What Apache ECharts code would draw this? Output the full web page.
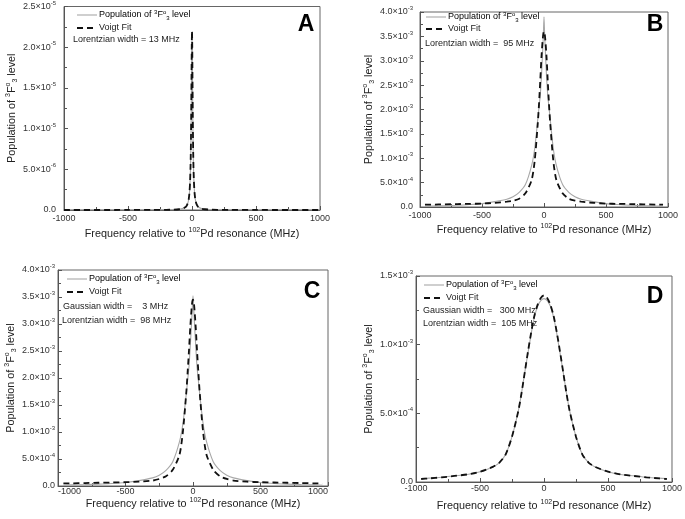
<!DOCTYPE html>
<html><head><meta charset="utf-8">
<script src="https://cdn.jsdelivr.net/npm/echarts@6/dist/echarts.min.js"></script>
<style>html,body{margin:0;padding:0;background:#fff}#c{width:685px;height:519px}</style>
</head><body><div id="c"></div>
<script>
// ---------------- DATA ----------------
const xTicks = [-1000, -500, 0, 500, 1000];
const xA = [-1000,-500,-300,-200,-150,-100,-75,-50,-40,-30,-25,-20,-15,-12,-10,-8,-6,-4,-2,0,2,4,6,8,10,12,15,20,25,30,40,50,75,100,150,200,300,500,1000];
const popA = [0.001e-6,0.004e-6,0.01e-6,0.024e-6,0.042e-6,0.095e-6,0.167e-6,0.37e-6,0.58e-6,1.0e-6,1.4e-6,2.1e-6,3.5e-6,5.0e-6,6.5e-6,8.7e-6,11.8e-6,15.9e-6,19.9e-6,21.8e-6,19.9e-6,15.9e-6,11.8e-6,8.7e-6,6.5e-6,5.0e-6,3.5e-6,2.1e-6,1.4e-6,1.0e-6,0.58e-6,0.37e-6,0.167e-6,0.095e-6,0.042e-6,0.024e-6,0.01e-6,0.004e-6,0.001e-6];
const fitA = [0.001e-6,0.004e-6,0.01e-6,0.023e-6,0.041e-6,0.093e-6,0.164e-6,0.365e-6,0.57e-6,0.99e-6,1.39e-6,2.1e-6,3.48e-6,4.99e-6,6.53e-6,8.75e-6,11.9e-6,16.0e-6,20.1e-6,22.0e-6,20.1e-6,16.0e-6,11.9e-6,8.75e-6,6.53e-6,4.99e-6,3.48e-6,2.1e-6,1.39e-6,0.99e-6,0.57e-6,0.365e-6,0.164e-6,0.093e-6,0.041e-6,0.023e-6,0.01e-6,0.004e-6,0.001e-6];

const xB = [-960,-900,-800,-700,-600,-500,-400,-300,-250,-200,-150,-100,-75,-50,-40,-30,-20,-10,-5,0,5,10,20,30,40,50,75,100,150,200,250,300,400,500,600,700,800,900,960];
const popB = [0.015e-3,0.02e-3,0.025e-3,0.035e-3,0.05e-3,0.07e-3,0.11e-3,0.16e-3,0.21e-3,0.3e-3,0.46e-3,0.85e-3,1.2e-3,1.8e-3,2.05e-3,2.3e-3,2.7e-3,3.25e-3,3.55e-3,3.9e-3,3.55e-3,3.25e-3,2.7e-3,2.3e-3,2.05e-3,1.8e-3,1.2e-3,0.85e-3,0.46e-3,0.3e-3,0.21e-3,0.16e-3,0.11e-3,0.07e-3,0.05e-3,0.035e-3,0.025e-3,0.02e-3,0.015e-3];
const fitB = [0.05e-3,0.05e-3,0.055e-3,0.06e-3,0.065e-3,0.07e-3,0.085e-3,0.11e-3,0.13e-3,0.17e-3,0.28e-3,0.55e-3,0.95e-3,1.72e-3,2.12e-3,2.6e-3,3.1e-3,3.45e-3,3.56e-3,3.6e-3,3.56e-3,3.45e-3,3.1e-3,2.6e-3,2.12e-3,1.72e-3,0.95e-3,0.55e-3,0.28e-3,0.17e-3,0.13e-3,0.11e-3,0.085e-3,0.07e-3,0.065e-3,0.06e-3,0.055e-3,0.05e-3,0.05e-3];

const xC = [-960,-900,-800,-700,-600,-500,-400,-300,-250,-200,-150,-100,-75,-50,-40,-30,-20,-10,-5,0,5,10,20,30,40,50,75,100,150,200,250,300,400,500,600,700,800,900,960];
const popC = [0.015e-3,0.02e-3,0.025e-3,0.035e-3,0.045e-3,0.065e-3,0.1e-3,0.15e-3,0.2e-3,0.29e-3,0.45e-3,0.82e-3,1.15e-3,1.7e-3,1.95e-3,2.2e-3,2.6e-3,3.05e-3,3.3e-3,3.52e-3,3.3e-3,3.05e-3,2.6e-3,2.2e-3,1.95e-3,1.7e-3,1.15e-3,0.82e-3,0.45e-3,0.29e-3,0.2e-3,0.15e-3,0.1e-3,0.065e-3,0.045e-3,0.035e-3,0.025e-3,0.02e-3,0.015e-3];
const fitC = [0.05e-3,0.05e-3,0.055e-3,0.06e-3,0.065e-3,0.07e-3,0.08e-3,0.1e-3,0.13e-3,0.18e-3,0.3e-3,0.58e-3,1.0e-3,1.72e-3,2.1e-3,2.5e-3,2.95e-3,3.3e-3,3.42e-3,3.45e-3,3.42e-3,3.3e-3,2.95e-3,2.5e-3,2.1e-3,1.72e-3,1.0e-3,0.58e-3,0.3e-3,0.18e-3,0.13e-3,0.1e-3,0.08e-3,0.07e-3,0.065e-3,0.06e-3,0.055e-3,0.05e-3,0.05e-3];

const xD = [-960,-900,-800,-700,-600,-500,-400,-350,-300,-250,-200,-175,-150,-125,-100,-75,-50,-25,0,25,50,75,100,125,150,175,200,250,300,350,400,500,600,700,800,900,960];
const popD = [0.025e-3,0.028e-3,0.035e-3,0.045e-3,0.055e-3,0.075e-3,0.11e-3,0.14e-3,0.2e-3,0.33e-3,0.52e-3,0.65e-3,0.8e-3,0.94e-3,1.08e-3,1.2e-3,1.28e-3,1.32e-3,1.335e-3,1.32e-3,1.28e-3,1.2e-3,1.08e-3,0.94e-3,0.8e-3,0.65e-3,0.52e-3,0.33e-3,0.2e-3,0.14e-3,0.11e-3,0.075e-3,0.055e-3,0.045e-3,0.035e-3,0.028e-3,0.025e-3];
const fitD = [0.022e-3,0.026e-3,0.034e-3,0.044e-3,0.055e-3,0.075e-3,0.11e-3,0.14e-3,0.2e-3,0.33e-3,0.52e-3,0.65e-3,0.8e-3,0.95e-3,1.09e-3,1.21e-3,1.29e-3,1.34e-3,1.36e-3,1.34e-3,1.29e-3,1.21e-3,1.09e-3,0.95e-3,0.8e-3,0.65e-3,0.52e-3,0.33e-3,0.2e-3,0.14e-3,0.11e-3,0.075e-3,0.055e-3,0.044e-3,0.034e-3,0.026e-3,0.022e-3];

const yMaxA = 2.5e-5, yIntA = 5e-6;
const yMaxB = 4.0e-3, yIntB = 5e-4;
const yMaxC = 4.0e-3, yIntC = 5e-4;
const yMaxD = 1.5e-3, yIntD = 5e-4;
const panelLetters = ['A', 'B', 'C', 'D'];
const legendPop = '{t|Population of }{sup|3}{t|F}{sup|o}{sub|3}{t| level}';
const legendFit = 'Voigt Fit';
const notes = [
  ['Lorentzian width = 13 MHz'],
  ['Lorentzian width =  95 MHz'],
  ['Gaussian width =    3 MHz', 'Lorentzian width =  98 MHz'],
  ['Gaussian width =   300 MHz', 'Lorentzian width =  105 MHz']
];
// ---------------- LAYOUT ----------------
const FONT = 'Liberation Sans, Arial, sans-serif';
const grids = [
  {left: 64, top: 5, width: 256, height: 205},
  {left: 420, top: 12, width: 248, height: 195},
  {left: 58, top: 270, width: 270, height: 216},
  {left: 416, top: 276, width: 257, height: 206}
];
const xLabelMargin = [4, 4, 1, 2];
const yLabelMargin = [8, 7, 3, 3];
const xNameGap = [17, 16, 10, 17];
const yNameGap = [37, 37, 35, 34];
const edgeAlign = [false, false, true, false];
const panels = [
  {x: xA, pop: popA, fit: fitA, max: yMaxA, int: yIntA},
  {x: xB, pop: popB, fit: fitB, max: yMaxB, int: yIntB},
  {x: xC, pop: popC, fit: fitC, max: yMaxC, int: yIntC},
  {x: xD, pop: popD, fit: fitD, max: yMaxD, int: yIntD}
];
// legend: [lineX1, lineX2, textX, yPop, yFit]
const legendPos = [
  [77, 97, 99, 15, 28],
  [426, 446, 448, 17, 29],
  [67, 87, 89, 279, 292],
  [424, 444, 446, 285, 298]
];
const notePos = [
  [[73, 40]], [[425, 44]], [[63, 307], [62, 321]], [[423, 311], [423, 324]]
];
const letterPos = [[306, 25], [655, 25], [312, 292], [655, 297]];

function fmtY(v) {
  if (v === 0) return '{m|0.0}';
  const e = Math.floor(Math.log10(v) + 1e-9);
  const m = (v / Math.pow(10, e)).toFixed(1);
  return '{m|' + m + '×10}{e|' + e + '}';
}
const yRich = {
  m: {fontSize: 9, fontFamily: FONT, color: '#333', lineHeight: 13},
  e: {fontSize: 6, fontFamily: FONT, color: '#333', verticalAlign: 'top', lineHeight: 7}
};
const nameRich = {
  t: {fontSize: 10.8, fontFamily: FONT, color: '#222', lineHeight: 14},
  sup: {fontSize: 7, fontFamily: FONT, color: '#222', verticalAlign: 'top', lineHeight: 8},
  sub: {fontSize: 7, fontFamily: FONT, color: '#222', verticalAlign: 'bottom', lineHeight: 8}
};
const legRich = {
  t: {fontSize: 9, fontFamily: FONT, color: '#222', lineHeight: 12},
  sup: {fontSize: 6, fontFamily: FONT, color: '#222', verticalAlign: 'top', lineHeight: 7},
  sub: {fontSize: 6, fontFamily: FONT, color: '#222', verticalAlign: 'bottom', lineHeight: 7}
};
const GRAY = '#a8a8a8';
const DASH = [6, 4];

const legendGraphics = legendPos.flatMap(p => [
  {type: 'line', shape: {x1: p[0], y1: p[3], x2: p[1], y2: p[3]}, style: {stroke: GRAY, lineWidth: 1.1}},
  {type: 'line', shape: {x1: p[0], y1: p[4], x2: p[1], y2: p[4]}, style: {stroke: '#111', lineWidth: 1.8, lineDash: DASH}},
  {type: 'text', x: p[2], y: p[3], style: {text: legendPop, rich: legRich, textAlign: 'left', textVerticalAlign: 'middle'}},
  {type: 'text', x: p[2], y: p[4], style: {text: legendFit, font: '9px ' + FONT, fill: '#222', textAlign: 'left', textVerticalAlign: 'middle'}}
]);

const option = {
  animation: false,
  backgroundColor: '#fff',
  grid: grids.map(g => Object.assign({show: true, borderColor: '#666', borderWidth: 1, containLabel: false}, g)),
  xAxis: grids.map((g, i) => ({
    gridIndex: i, type: 'value', min: -1000, max: 1000, interval: 500,
    name: '{t|Frequency relative to }{sup|102}{t|Pd resonance (MHz)}',
    nameLocation: 'middle', nameGap: xNameGap[i],
    nameTextStyle: {rich: nameRich},
    axisLine: {show: true, onZero: false, lineStyle: {color: '#555', width: 1}},
    axisTick: {show: true, inside: true, length: 4, lineStyle: {color: '#555'}},
    minorTick: {show: true, splitNumber: 2, length: 3, lineStyle: {color: '#555'}},
    splitLine: {show: false},
    axisLabel: Object.assign({fontSize: 9, fontFamily: FONT, color: '#333', margin: xLabelMargin[i], formatter: v => String(v)},
      edgeAlign[i] ? {alignMinLabel: 'left', alignMaxLabel: 'right'} : {})
  })),
  yAxis: panels.map((p, i) => ({
    gridIndex: i, type: 'value', min: 0, max: p.max, interval: p.int,
    name: '{t|Population of }{sup|3}{t|F}{sup|o}{sub|3}{t| level}',
    nameLocation: 'middle', nameGap: yNameGap[i], nameRotate: 90,
    nameTextStyle: {rich: nameRich},
    axisLine: {show: true, onZero: false, lineStyle: {color: '#555', width: 1}},
    axisTick: {show: true, inside: true, length: 4, lineStyle: {color: '#555'}},
    minorTick: {show: true, splitNumber: 2, length: 3, lineStyle: {color: '#555'}},
    splitLine: {show: false},
    axisLabel: {formatter: fmtY, rich: yRich, margin: yLabelMargin[i]}
  })),
  series: panels.flatMap((p, i) => [
    {
      name: 'pop' + i, type: 'line', xAxisIndex: i, yAxisIndex: i,
      data: p.x.map((x, k) => [x, p.pop[k]]), symbol: 'none', smooth: 0.25, z: 2,
      lineStyle: {color: GRAY, width: 1.1}, itemStyle: {color: GRAY}
    },
    {
      name: 'fit' + i, type: 'line', xAxisIndex: i, yAxisIndex: i,
      data: p.x.map((x, k) => [x, p.fit[k]]), symbol: 'none', smooth: 0.25, z: 3,
      lineStyle: {color: '#111', width: 1.8, type: DASH}, itemStyle: {color: '#111'}
    }
  ]),
  graphic: [].concat(
    legendGraphics,
    panelLetters.map((L, i) => ({
      type: 'text', x: letterPos[i][0], y: letterPos[i][1],
      style: {text: L, font: 'bold 23px ' + FONT, fill: '#000', textAlign: 'center', textVerticalAlign: 'middle'}
    })),
    notes.flatMap((arr, i) => arr.map((s, k) => ({
      type: 'text', x: notePos[i][k][0], y: notePos[i][k][1],
      style: {text: s, font: '9px ' + FONT, fill: '#222', textAlign: 'left', textVerticalAlign: 'middle'}
    })))
  )
};
const chart = echarts.init(document.getElementById('c'), null, {renderer: 'canvas'});
chart.setOption(option);
</script></body></html>
